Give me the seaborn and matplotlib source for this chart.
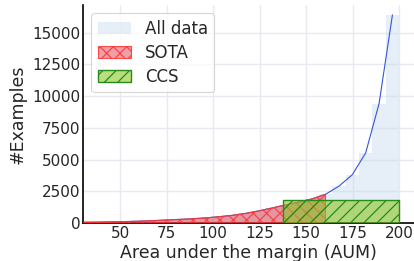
import numpy as np
import pandas as pd
import matplotlib
matplotlib.use("Agg")
import matplotlib.pyplot as plt
import seaborn as sns
from matplotlib.patches import Patch

# ---- data ----
bin_edges = [20.0, 27.2, 34.4, 41.6, 48.8, 56.0, 63.2, 70.4, 77.6, 84.8, 92.0,
             99.2, 106.4, 113.6, 120.8, 128.0, 135.2, 142.4, 149.6, 156.8,
             164.0, 171.2, 178.4, 185.6, 192.8, 200.0]
bin_centers = [23.6, 30.8, 38.0, 45.2, 52.4, 59.6, 66.8, 74.0, 81.2, 88.4,
               95.6, 102.8, 110.0, 117.2, 124.4, 131.6, 138.8, 146.0, 153.2,
               160.4, 167.6, 174.8, 182.0, 189.2, 196.4]
counts = [50, 60, 70, 90, 110, 140, 180, 230, 280, 330,
          400, 490, 600, 750, 950, 1180, 1420, 1650, 1900,
          2260, 2900, 3800, 5520, 9400, 16400]
sota_max_aum = 160.4
ccs_range = [137.8, 200.0]
ccs_height = [1800, 1800]
legend_labels = ["All data", "SOTA", "CCS"]
x_ticks = [50, 75, 100, 125, 150, 175, 200]

df = pd.DataFrame({"aum": bin_centers, "count": counts})

sns.set_style("whitegrid", {"grid.color": "#e9e9f1", "axes.edgecolor": "black"})
plt.rcParams["font.family"] = ["DejaVu Sans"]

DPI = 80
S = 100 / DPI  # scale so that sizes look as at 100 dpi
plt.rcParams["grid.linewidth"] = 1.0 * S
plt.rcParams["hatch.linewidth"] = 0.9 * S

fig = plt.figure(figsize=(414 / DPI, 261 / DPI), dpi=DPI)
ax = fig.add_axes([0.2005, 0.1456, 0.7995, 0.837])

red_face = (0.88, 0.25, 0.3, 0.5)
red_edge = (1.0, 0.2, 0.2, 0.85)
green_face = (0.55, 0.78, 0.15, 0.6)
green_edge = (0.15, 0.55, 0.1, 1.0)
blue_face = "#c9dbee"

# All data histogram
sns.histplot(data=df, x="aum", weights="count", bins=bin_edges, ax=ax,
             color=blue_face, alpha=0.45, linewidth=0, edgecolor="none")
# frequency polygon
sns.lineplot(data=df, x="aum", y="count", ax=ax, color="#3355dd", linewidth=0.8 * S)

# SOTA region
sota = df[df["aum"] <= sota_max_aum]
ax.fill_between(sota["aum"], 0, sota["count"], facecolor=red_face,
                edgecolor=red_edge, hatch="xx", linewidth=0.8 * S, zorder=3)
# CCS region
ax.fill_between(ccs_range, 0, ccs_height, facecolor=green_face,
                edgecolor=green_edge, hatch="//", linewidth=1.0 * S, zorder=4)

ax.set_xlim(30, 208)
ax.set_ylim(0, 17220)
ax.set_xticks(x_ticks)
ax.set_yticks([0, 2500, 5000, 7500, 10000, 12500, 15000])
ax.tick_params(axis="both", labelsize=11 * S, pad=2 * S, length=0)
ax.set_xlabel("Area under the margin (AUM)", fontsize=12.5 * S, labelpad=2 * S)
ax.set_ylabel("#Examples", fontsize=12.5 * S, labelpad=4 * S)
sns.despine(ax=ax)
for s in ["left", "bottom"]:
    ax.spines[s].set_linewidth(1.2 * S)
    ax.spines[s].set_color("black")

handles = [
    Patch(facecolor=blue_face, alpha=0.45, edgecolor="none"),
    Patch(facecolor=red_face, edgecolor=red_edge, hatch="xx", linewidth=0.8 * S),
    Patch(facecolor=green_face, edgecolor=green_edge, hatch="//", linewidth=1.0 * S),
]
leg = ax.legend(handles, legend_labels, loc="upper left", fontsize=12 * S, frameon=True,
                bbox_to_anchor=(0.0, 0.998), borderpad=0.4, labelspacing=0.35,
                handlelength=2.0, handletextpad=0.8)

fig.savefig("out.png", dpi=DPI)
